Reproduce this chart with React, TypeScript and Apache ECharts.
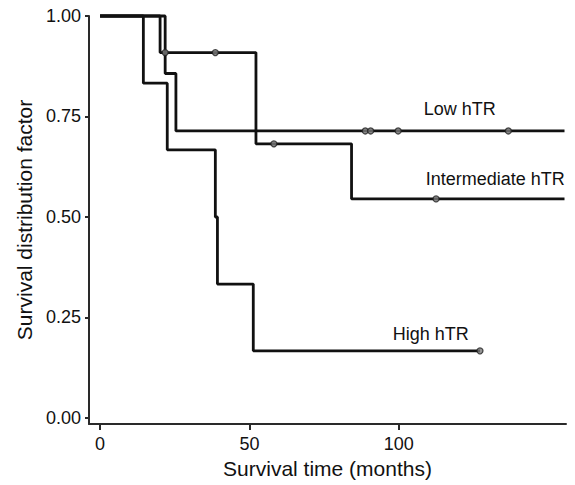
import React, { useEffect, useRef } from "react";
import * as echarts from "echarts";

// Kaplan-Meier step data (time in months, survival probability)
const lowTimes = [0, 21.8, 25.4, 155.5];
const lowSurv = [1, 0.857, 0.714, 0.714];
const lowCensorTimes = [88.8, 90.6, 99.8, 136.7];
const lowCensorSurv = [0.714, 0.714, 0.714, 0.714];

const intTimes = [0, 20.1, 52.2, 84.2, 155.5];
const intSurv = [1, 0.909, 0.682, 0.545, 0.545];
const intCensorTimes = [21.8, 38.6, 58.2, 112.5];
const intCensorSurv = [0.909, 0.909, 0.682, 0.545];

const highTimes = [0, 14.5, 22.5, 38.6, 39.3, 51.3, 127.2];
const highSurv = [1, 0.833, 0.667, 0.5, 0.333, 0.167, 0.167];
const highCensorTimes = [127.2];
const highCensorSurv = [0.167];

const groupLabels = ["Low hTR", "Intermediate hTR", "High hTR"];
const labelX = [120.4, 132.3, 110.7];
const labelY = [0.769, 0.595, 0.208];

const xTicks = [0, 50, 100];
const yTicks = [0, 0.25, 0.5, 0.75, 1];

const FONT = "'Liberation Sans', Arial, Helvetica, sans-serif";

const zip = (a: number[], b: number[]) => a.map((v, i) => [v, b[i]]);

export default function App() {
  const ref = useRef<HTMLDivElement>(null);
  useEffect(() => {
    if (!ref.current) return;
    const chart = echarts.init(ref.current, undefined, { renderer: "svg" });
    const stepSeries = (name: string, t: number[], s: number[]) => ({
      name,
      type: "line",
      step: "end",
      data: zip(t, s),
      showSymbol: false,
      symbol: "none",
      clip: false,
      lineStyle: { color: "#111", width: 2.8 },
      z: 2,
    });
    const censorSeries = (name: string, t: number[], s: number[]) => ({
      name,
      type: "scatter",
      data: zip(t, s),
      symbol: "circle",
      symbolSize: 6,
      clip: false,
      itemStyle: { color: "#7a7a7a", borderColor: "#222", borderWidth: 1.3 },
      z: 3,
    });
    chart.setOption({
      animation: false,
      backgroundColor: "#ffffff",
      grid: { left: 89, right: 9, top: 16, bottom: 61 },
      xAxis: {
        type: "value",
        min: -3.7,
        max: 156,
        name: "Survival time (months)",
        nameLocation: "middle",
        nameGap: 30,
        nameTextStyle: { fontFamily: FONT, fontSize: 21, color: "#111" },
        splitLine: { show: false },
        axisLine: { show: true, onZero: false, lineStyle: { color: "#2a2a2a", width: 2 } },
        axisTick: {
          show: true,
          customValues: xTicks,
          length: 6,
          lineStyle: { color: "#2a2a2a", width: 2 },
        },
        axisLabel: {
          customValues: xTicks,
          margin: 11,
          fontFamily: FONT,
          fontSize: 18,
          color: "#111",
        },
      },
      yAxis: {
        type: "value",
        min: -0.015,
        max: 1,
        name: "Survival distribution factor",
        nameLocation: "middle",
        nameGap: 54,
        nameTextStyle: { fontFamily: FONT, fontSize: 21, color: "#111" },
        splitLine: { show: false },
        axisLine: { show: true, onZero: false, lineStyle: { color: "#2a2a2a", width: 2 } },
        axisTick: {
          show: true,
          customValues: yTicks,
          length: 4,
          lineStyle: { color: "#2a2a2a", width: 2 },
        },
        axisLabel: {
          customValues: yTicks,
          margin: 8,
          fontFamily: FONT,
          fontSize: 18,
          color: "#111",
          formatter: (v: number) => v.toFixed(2),
        },
      },
      series: [
        stepSeries("Low hTR", lowTimes, lowSurv),
        stepSeries("Intermediate hTR", intTimes, intSurv),
        stepSeries("High hTR", highTimes, highSurv),
        censorSeries("Low censored", lowCensorTimes, lowCensorSurv),
        censorSeries("Intermediate censored", intCensorTimes, intCensorSurv),
        censorSeries("High censored", highCensorTimes, highCensorSurv),
        {
          name: "labels",
          type: "scatter",
          symbolSize: 1,
          clip: false,
          silent: true,
          itemStyle: { color: "rgba(0,0,0,0)" },
          data: groupLabels.map((g, i) => ({ value: [labelX[i], labelY[i]], name: g })),
          label: {
            show: true,
            position: "inside",
            formatter: (p: any) => p.name,
            fontFamily: FONT,
            fontSize: 18,
            color: "#111",
            opacity: 1,
            textBorderWidth: 0,
          },
          z: 4,
        },
      ],
    });
    return () => chart.dispose();
  }, []);
  return (
    <div
      ref={ref}
      style={{ position: "fixed", left: 0, top: 0, width: 575, height: 485, background: "#fff" }}
    />
  );
}
